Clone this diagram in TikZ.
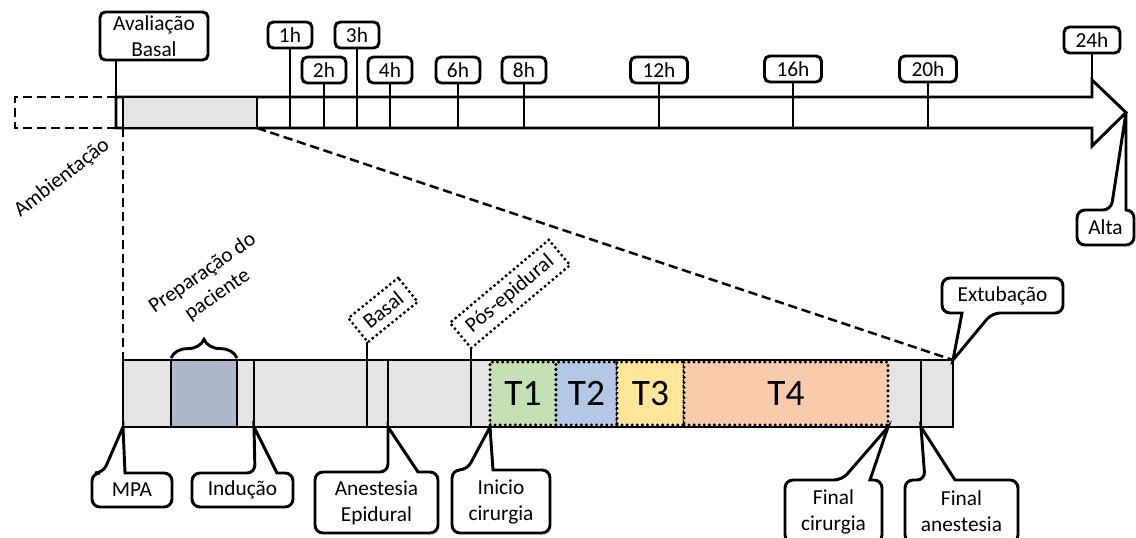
\documentclass[tikz,border=0pt]{standalone}
\usepackage{fontspec}
\setmainfont{Carlito}
\usetikzlibrary{decorations.pathreplacing}
\definecolor{bargray}{HTML}{E4E4E4}
\definecolor{prepblue}{HTML}{ADB9CA}
\definecolor{tone}{HTML}{C5E0B4}
\definecolor{ttwo}{HTML}{B4C7E7}
\definecolor{tthree}{HTML}{FFE699}
\definecolor{tfour}{HTML}{F8CBAD}
\newcommand\crad{6pt}
% callout outline around node #1, wedge on the top edge with legs at x=#3 and x=#4, pointing at #2
\newcommand\wedgeN[4]{%
  \coordinate (wa) at (#3,0); \coordinate (wb) at (#4,0);
  \draw (#1.west) [rounded corners=\crad] -- (#1.north west) -- (wa |- #1.north)
    [sharp corners] -- (#2) -- (wb |- #1.north)
    [rounded corners=\crad] -- (#1.north east) -- (#1.south east) -- (#1.south west) -- cycle;}
% same, wedge on the bottom edge
\newcommand\wedgeS[4]{%
  \coordinate (wa) at (#3,0); \coordinate (wb) at (#4,0);
  \draw (#1.west) [rounded corners=\crad] -- (#1.north west) -- (#1.north east) -- (#1.south east)
    -- (wb |- #1.south) [sharp corners] -- (#2) -- (wa |- #1.south)
    [rounded corners=\crad] -- (#1.south west) -- cycle;}
\tikzset{
  lbl/.style={font=\fontsize{16}{19.5}\selectfont, align=center, inner sep=0pt, outer sep=0pt},
  big/.style={font=\fontsize{28}{32}\selectfont, inner sep=0pt, outer sep=0pt},
  sz/.style 2 args={minimum width=#1*0.75pt, minimum height=#2*0.75pt},
  rbox/.style={lbl, draw, fill=white, rounded corners=4pt},
  dashline/.style={dash pattern=on 7pt off 3.5pt, line width=1.8pt},
  dotline/.style={line cap=round, dash pattern=on 0pt off 3.8pt, line width=2.5pt},
  phase/.style={big, draw, dotline, sz={#1}{63}},
}
\begin{document}
\begin{tikzpicture}[x=0.75pt, y=-0.75pt, line width=2.2pt]
\useasboundingbox (0,0) rectangle (1136,538);
\clip (0,0) rectangle (1136,538);

% ---- 24 h time axis ----
\coordinate (axbot) at (0,128);
\coordinate (headtop) at (1092,80);
\coordinate (arrowtip) at (1126,112.5);
\draw[fill=white] (116,97) -- (1092,97) -- (headtop) -- (arrowtip) -- (1092,146)
  -- (1092,128) -- (116,128) -- cycle;
\draw[dashline] (116,97) -- (15,97) -- (15,128) -- (116,128);
\node[draw, fill=bargray, sz={134}{31}, inner sep=0pt, outer sep=0pt] (zoomsrc) at (190,112.5) {};

\node[rbox, sz={108}{48}] (aval) at (154,36) {Avaliação\\Basal};
\coordinate (avalfoot) at (116,128);
\draw (avalfoot) -- (avalfoot |- aval.south);

\foreach \n/\x/\y/\w in {1/290/35/44, 2/324/70/44, 3/357/35/44, 4/390/70/44,
    6/458/70/44, 8/524/70/44, 12/659/70/57, 16/793/69/57, 20/928/69/57}{
  \draw (\x,\y) ++(0,13) coordinate (tf\n) -- (tf\n |- axbot);
  \node[rbox, sz={\w}{26}] (t\n) at (\x,\y) {\n h};
}
\node[rbox, sz={56}{26}] (t24) at (1092,40) {24h};
\draw (t24.south) -- (headtop);

\node[lbl, rotate=38] (amb) at (62,178) {Ambientação};

% ---- enlarged anaesthesia period ----
\node[draw, fill=bargray, sz={830}{67}, inner sep=0pt, outer sep=0pt] (bar) at (538,393.5) {};
\draw[dashline] (zoomsrc.south west) -- (bar.north west);
\draw[dashline] (zoomsrc.south east) -- (bar.north east);

\node[draw, fill=prepblue, sz={66}{67}, inner sep=0pt, outer sep=0pt] (prep) at (204,393.5) {};
\draw[decorate, decoration={brace, amplitude=14pt}, line width=2.2pt] (171,358) -- (237,358);
\node[lbl, rotate=35] (preptxt) at (210,284) {Preparação do\\paciente};

\node[phase=66, fill=tone] (T1) at (523,393.5) {T1};
\node[phase=61, fill=ttwo] (T2) at (586.5,393.5) {T2};
\node[phase=67, fill=tthree] (T3) at (650.5,393.5) {T3};
\node[phase=204, fill=tfour] (T4) at (786,393.5) {T4};

\node[lbl, draw, dotline, rotate=39, sz={64}{31}] (basal) at (383,310) {Basal};
\node[lbl, draw, dotline, rotate=40, sz={129}{33}] (pos) at (510,294) {Pós-epidural};

\coordinate (mMPA) at (123,427);
\coordinate (mInd) at (254,427);
\coordinate (mBas) at (367,427);
\coordinate (mEpi) at (388,427);
\coordinate (mPos) at (471,427);
\coordinate (mIni) at (490,427);
\coordinate (mFci) at (888,427);
\coordinate (mFan) at (921,427);
\draw (mInd) -- (mInd |- bar.north);
\draw (mBas) -- (mBas |- basal.south west);
\draw (mEpi) -- (mEpi |- bar.north);
\draw (mPos) -- (mPos |- pos.south west);
\draw (mFan) -- (mFan |- bar.north);

% ---- callouts ----
\node[lbl, sz={80}{34}] (mpa) at (132,490) {MPA};
\wedgeN{mpa}{mMPA}{103}{125}
\node[lbl, sz={101}{34}] (ind) at (242.5,490) {Indução};
\wedgeN{ind}{mInd}{255}{277}
\node[lbl, sz={123}{61}] (epi) at (376.5,502.5) {Anestesia\\Epidural};
\wedgeN{epi}{mEpi}{388}{418}
\node[lbl, sz={98}{63}] (ini) at (501,501.5) {Inicio\\cirurgia};
\wedgeN{ini}{mIni}{467}{493}
\node[lbl, sz={97}{63}] (fci) at (833.5,511.5) {Final\\cirurgia};
\wedgeN{fci}{mFci}{842}{870}
\node[lbl, sz={113}{63}] (fan) at (961.5,511.5) {Final\\anestesia};
\wedgeN{fan}{mFan}{925}{955}
\node[lbl, sz={121}{35}] (ext) at (1002.5,295.5) {Extubação};
\wedgeS{ext}{bar.north east}{962}{992}
\node[lbl, sz={57}{35}] (alta) at (1105.5,227.5) {Alta};
\wedgeN{alta}{arrowtip}{1111}{1126}
\end{tikzpicture}
\end{document}
